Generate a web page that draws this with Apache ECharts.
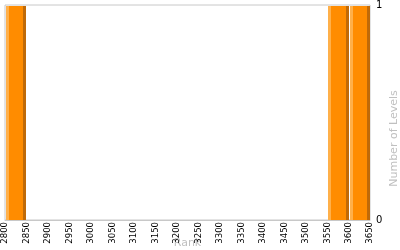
<!DOCTYPE html>
<html><head><meta charset="utf-8">
<script src="https://cdn.jsdelivr.net/npm/echarts@6/dist/echarts.min.js"></script>
<style>html,body{margin:0;padding:0;background:#fff}#c{width:400px;height:250px}</style>
</head><body><div id="c"></div>
<script>
const binStarts = [2800, 3550, 3600];
const binEnds = [2850, 3600, 3650];
const levelCounts = [1, 1, 1];
const xTicks = [2800, 3650, 50];
const yTicks = [0, 1, 1];

const data = binStarts.map((s, i) => [s, binEnds[i], levelCounts[i]]);
const chart = echarts.init(document.getElementById('c'), null, {renderer: 'canvas'});
chart.setOption({
  animation: false,
  grid: {left: 5, right: 30, top: 5, bottom: 30, show: true, borderColor: '#c8c8c8', borderWidth: 1,
         containLabel: false, outerBoundsMode: 'none'},
  xAxis: {
    type: 'value', min: xTicks[0], max: xTicks[1], interval: xTicks[2],
    name: 'Rank', nameLocation: 'middle', nameGap: 18, nameMoveOverlap: false,
    nameTextStyle: {color: '#c0c0c0', fontFamily: 'DejaVu Sans', fontSize: 11},
    axisLine: {show: true, lineStyle: {color: '#c8c8c8'}},
    axisTick: {show: false}, splitLine: {show: false},
    axisLabel: {rotate: 90, color: '#000', fontFamily: 'DejaVu Sans Condensed, DejaVu Sans', fontSize: 9.5, margin: 2,
                formatter: function (v) { return String(v); }}
  },
  yAxis: {
    type: 'value', position: 'right', min: yTicks[0], max: yTicks[1], interval: yTicks[2],
    name: 'Number of Levels', nameLocation: 'middle', nameGap: 19, nameRotate: 90, nameMoveOverlap: false,
    nameTextStyle: {color: '#c0c0c0', fontFamily: 'DejaVu Sans', fontSize: 11, padding: [0, 52, 0, 0]},
    axisLine: {show: false}, axisTick: {show: false}, splitLine: {show: false},
    axisLabel: {color: '#000', fontFamily: 'DejaVu Sans', fontSize: 10, margin: 6, verticalAlign: 'middle'}
  },
  series: [{
    type: 'custom',
    data: data,
    encode: {x: [0, 1], y: 2},
    renderItem: function (params, api) {
      const p0 = api.coord([api.value(0), 0]);
      const p1 = api.coord([api.value(1), api.value(2)]);
      const x0 = Math.round(p0[0]) + 1, x1 = Math.round(p1[0]);
      const yTop = Math.round(p1[1]) + 1, yBot = Math.round(p0[1]);
      const h = yBot - yTop, w = x1 - x0;
      return {
        type: 'group',
        children: [
          {type: 'rect', shape: {x: x0, y: yTop, width: 3, height: h}, style: {fill: '#ffb04a'}},
          {type: 'rect', shape: {x: x0 + 3, y: yTop, width: w - 6, height: h}, style: {fill: '#ff8c00'}},
          {type: 'rect', shape: {x: x1 - 3, y: yTop, width: 3, height: h}, style: {fill: '#c06a08'}}
        ]
      };
    }
  }]
});
</script></body></html>
